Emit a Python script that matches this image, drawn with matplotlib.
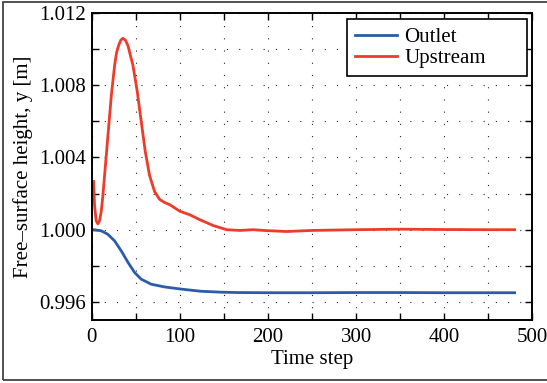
import matplotlib
matplotlib.use("Agg")
import matplotlib.pyplot as plt
from matplotlib.patches import Rectangle
from matplotlib.ticker import MultipleLocator, FormatStrFormatter

plt.rcParams['font.family'] = ['Liberation Serif', 'DejaVu Serif']

# Outlet (blue)
outlet_t = [0, 2.3, 10.6, 18, 25.8, 33.3, 41, 48.5, 56, 67.4, 82.6, 101.5, 124, 147, 166,
            200, 250, 300, 350, 400, 450, 480]
outlet_y = [1.0, 1.0, 0.99994, 0.99975, 0.99938, 0.99883, 0.99819, 0.99763, 0.99726, 0.99698,
            0.99683, 0.99671, 0.99659, 0.99654, 0.99652, 0.99651, 0.99651, 0.99652, 0.99652,
            0.99651, 0.99651, 0.99651]

# Upstream (red)
upstream_t = [1.9, 3, 4.8, 6.8, 8.7, 10.6, 12.5, 14.4, 18.2, 22, 25.8, 28, 30.3, 32.8, 35.2,
              38, 40.9, 46.6, 51.5, 56, 60.6, 65.5, 71.2, 76.9, 82, 88.6, 100, 111, 122.7,
              137.8, 153, 168, 183, 198.5, 221, 250, 300, 350, 400, 450, 480]
upstream_y = [1.00267, 1.00137, 1.0005, 1.00032, 1.0005, 1.00100, 1.0019, 1.0030, 1.0052,
              1.0074, 1.0091, 1.0098, 1.0102, 1.01050, 1.0106, 1.0105, 1.0102, 1.0091,
              1.00766, 1.0060, 1.00433, 1.0030, 1.00211, 1.00168, 1.00152, 1.00138, 1.00102,
              1.00083, 1.00055, 1.00023, 1.0, 0.99996, 1.0, 0.99995, 0.9999, 0.99996, 1.0,
              1.00003, 1.00001, 1.0, 1.0]

fig = plt.figure(figsize=(5.47, 3.83), dpi=100)
ax = fig.add_axes([0.168, 0.1645, 0.805, 0.8015])

ax.plot(outlet_t, outlet_y, color='#2a5caa', lw=2.0, label='Outlet')
ax.plot(upstream_t, upstream_y, color='#ee3b2a', lw=2.0, label='Upstream')

ax.set_xlim(0, 500)
ax.set_ylim(0.995, 1.012)
ax.xaxis.set_major_locator(MultipleLocator(100))
ax.xaxis.set_minor_locator(MultipleLocator(50))
ax.yaxis.set_major_locator(MultipleLocator(0.004))
ax.yaxis.set_minor_locator(MultipleLocator(0.002))
ax.yaxis.set_major_formatter(FormatStrFormatter('%.3f'))
ax.tick_params(which='both', direction='in', top=True, right=True, labelsize=15, width=1,
               length=5)
ax.tick_params(axis='x', pad=6)
ax.tick_params(axis='y', pad=4)
ax.grid(True, which='both', color='#222222', linestyle=(0, (1, 10)), linewidth=0.8)
for s in ax.spines.values():
    s.set_linewidth(1.4)

ax.set_xlabel('Time step', fontsize=15, labelpad=2)
ax.set_ylabel('Free–surface height, y [m]', fontsize=15, labelpad=5)

leg = ax.legend(loc='upper right', bbox_to_anchor=(0.5795, 0.86, 0.409, 0.1195), mode='expand',
                fontsize=15, fancybox=False, edgecolor='black', framealpha=1, borderpad=0.4,
                handlelength=2.0, handletextpad=0.35, labelspacing=0.05, borderaxespad=0)
leg.get_frame().set_linewidth(1.2)

fig.patches.append(Rectangle((0.005, 0.007), 1.2, 0.988, transform=fig.transFigure,
                             fill=False, edgecolor='#333333', lw=1.2))

fig.savefig('out.png', dpi=100)
